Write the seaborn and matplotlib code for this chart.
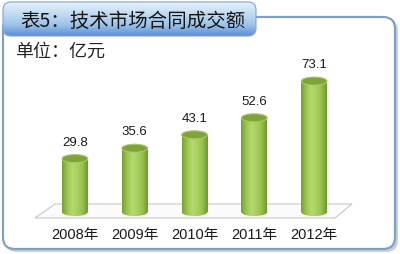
import numpy as np
import pandas as pd
import matplotlib
matplotlib.use("Agg")
import matplotlib.pyplot as plt
import seaborn as sns
from matplotlib.patches import FancyBboxPatch, Ellipse, Polygon
from matplotlib.colors import LinearSegmentedColormap

# ---- data ----
years = ["2008年", "2009年", "2010年", "2011年", "2012年"]
values = [29.8, 35.6, 43.1, 52.6, 73.1]
title_text = "表5：技术市场合同成交额"
unit_text = "单位：亿元"

sns.set_theme(style="white")
plt.rcParams["font.family"] = ["Liberation Sans", "Noto Sans CJK SC", "DejaVu Sans"]

W, H = 400, 255
fig = plt.figure(figsize=(W / 100, H / 100), dpi=100)
fig.patch.set_facecolor("white")

# ---- background (pixel coordinates) ----
bg = fig.add_axes([0, 0, 1, 1], zorder=0)
bg.set_xlim(0, W)
bg.set_ylim(H, 0)
bg.axis("off")

# frame shadow + frame
shadow = FancyBboxPatch((5, 20), 393, 233, boxstyle="round,pad=0,rounding_size=12",
                        fc="#9fb3c8", ec="none", alpha=0.6)
bg.add_patch(shadow)
frame = FancyBboxPatch((3, 18), 392, 232, boxstyle="round,pad=0,rounding_size=12",
                       fc="white", ec="#7ea2c6", lw=1.6)
bg.add_patch(frame)

# title box with vertical gradient
tbox = FancyBboxPatch((3, 3), 253, 34, boxstyle="round,pad=0,rounding_size=8",
                      fc="none", ec="#7fa5d0", lw=0.8, zorder=3)
bg.add_patch(tbox)
tcmap = LinearSegmentedColormap.from_list("t", ["#e6f1fb", "#c3dcf3", "#9ec4ea", "#5a8fd6"])
grad = np.linspace(0, 1, 100).reshape(-1, 1)
im = bg.imshow(grad, cmap=tcmap, extent=(3, 256, 37, 3), origin="upper",
               aspect="auto", zorder=2)
im.set_clip_path(tbox)
bg.text(20, 21, title_text, fontsize=14, color="#151515", va="center", ha="left",
        family=["Noto Sans CJK SC", "DejaVu Sans"], zorder=4)
bg.text(15, 52, unit_text, fontsize=13, color="#222222", va="center", ha="left",
        family=["Noto Sans CJK SC", "DejaVu Sans"], zorder=4)

# floor (parallelogram)
floor = Polygon([(35, 219), (335, 219), (352, 205), (55, 205)], closed=True,
                fc="#fbfbfb", ec="#c8c8c8", lw=0.8, zorder=1)
bg.add_patch(floor)
bg.set_xlim(0, W)
bg.set_ylim(H, 0)

# ---- chart axes ----
ax = fig.add_axes([0.1125, 0.1435, 0.7475, 0.6996], zorder=1)
ax.patch.set_alpha(0)
df = pd.DataFrame({"year": years, "value": values})
sns.barplot(data=df, x="year", y="value", color="#9cc650", saturation=1,
            width=0.43, ax=ax, errorbar=None)
ax.set_xlim(-0.5, 4.5)
ax.set_ylim(-3, 96.6)
for s in ax.spines.values():
    s.set_visible(False)
ax.set_yticks([])
ax.set_xlabel("")
ax.set_ylabel("")
ax.tick_params(axis="x", length=0, pad=7, labelsize=10.5, colors="#1a1a1a")

cyl = LinearSegmentedColormap.from_list(
    "c", ["#76a030", "#9cc650", "#b5d96f", "#a8cf5e", "#96c04b", "#6e992b"])
hgrad = np.linspace(0, 1, 100).reshape(1, -1)
eh = 4.5  # ellipse height in data units
for p, v in zip(ax.patches, values):
    x0 = p.get_x()
    w = p.get_width()
    h = p.get_height()
    p.set_edgecolor("none")
    # bottom ellipse (rounded base)
    be = Ellipse((x0 + w / 2, 0), w, eh, fc="none", ec="none")
    ax.add_patch(be)
    ib = ax.imshow(hgrad, cmap=cyl, extent=(x0, x0 + w, -eh, eh), aspect="auto", zorder=2)
    ib.set_clip_path(be)
    # body
    ibody = ax.imshow(hgrad, cmap=cyl, extent=(x0, x0 + w, 0, h), aspect="auto", zorder=2)
    ibody.set_clip_path(p)
    # top ellipse
    te = Ellipse((x0 + w / 2, h), w, eh, fc="#7fa23a", ec="#a9ca62", lw=0.8, zorder=3)
    ax.add_patch(te)
    ax.annotate(f"{v}", (x0 + w / 2, h + eh / 2), xytext=(0, 5), textcoords="offset points",
                ha="center", va="bottom", fontsize=9.5, color="#1a1a1a", zorder=4)

ax.set_xlim(-0.5, 4.5)
ax.set_ylim(-3, 96.6)

fig.savefig("out.png", dpi=100)
